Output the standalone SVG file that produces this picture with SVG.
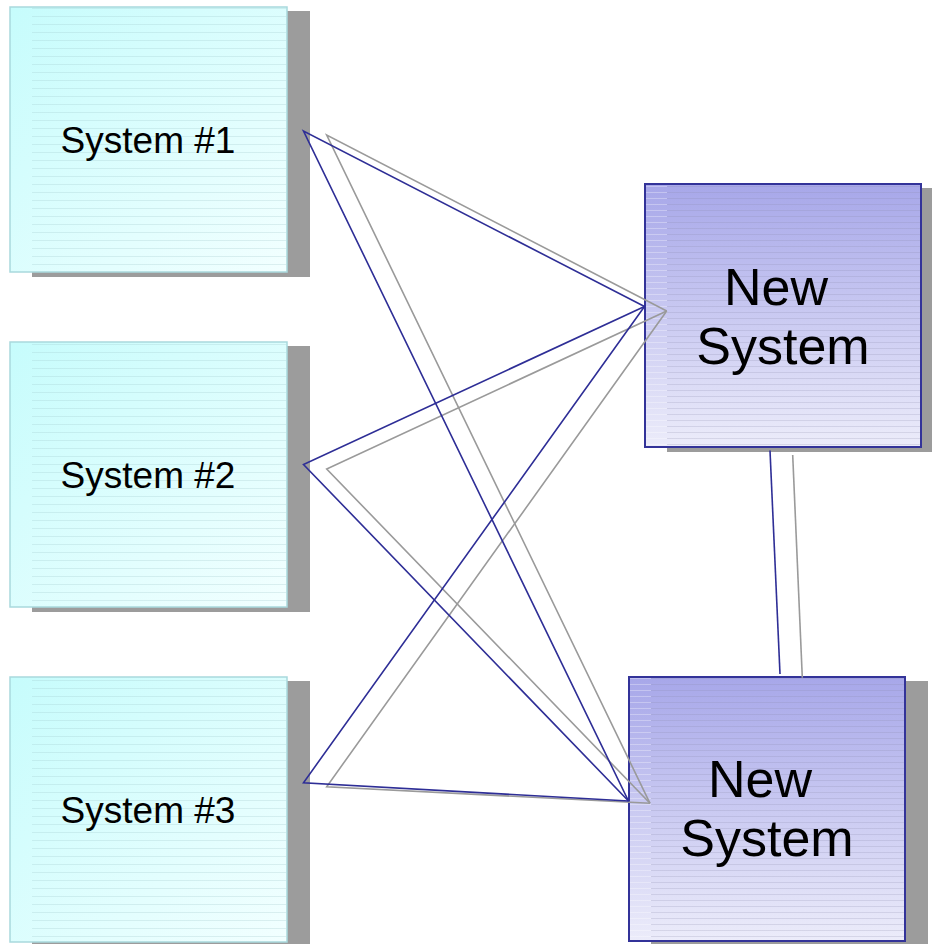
<svg xmlns="http://www.w3.org/2000/svg" width="932" height="944" viewBox="0 0 932 944">
  <defs>
    <linearGradient id="cyanFill" x1="0" y1="0" x2="1" y2="1">
      <stop offset="0" stop-color="#c6fcfc"/>
      <stop offset="1" stop-color="#f2ffff"/>
    </linearGradient>
    <linearGradient id="blueFill" x1="0" y1="0" x2="0" y2="1">
      <stop offset="0" stop-color="#a7a7e9"/>
      <stop offset="1" stop-color="#ececfa"/>
    </linearGradient>
    <pattern id="cyanLines" width="8" height="8" patternUnits="userSpaceOnUse">
      <rect x="0" y="0" width="8" height="1" fill="#9cc4c8" fill-opacity="0.28"/>
    </pattern>
    <pattern id="blueLines" width="6" height="6" patternUnits="userSpaceOnUse">
      <rect x="0" y="0" width="6" height="1" fill="#8a8aa8" fill-opacity="0.22"/>
    </pattern>
    <pattern id="blueEdge" width="6" height="6" patternUnits="userSpaceOnUse">
      <rect x="0" y="0" width="6" height="1" fill="#ffffff" fill-opacity="0.3"/>
    </pattern>
  </defs>
  <style>
    .shadow { fill: #9c9c9c; }
    .old { fill: url(#cyanFill); stroke: #a9d9dd; stroke-width: 1.5; }
    .oldLines { fill: url(#cyanLines); }
    .new { fill: url(#blueFill); stroke: #333399; stroke-width: 2; }
    .newLines { fill: url(#blueLines); }
    .newEdge { fill: url(#blueEdge); }
    .label { font-family: "Liberation Sans", Arial, sans-serif; fill: #000; }
    .small { font-size: 37px; text-anchor: middle; }
    .big { font-size: 52px; text-anchor: middle; }
    .link { fill: none; stroke: #2e2e96; stroke-width: 1.6; }
    .echo { fill: none; stroke: #9a9a9a; stroke-width: 1.6; }
  </style>

  <rect width="932" height="944" fill="#ffffff"/>

  <g id="system1">
    <rect class="shadow" x="32" y="11" width="278" height="266"/>
    <rect class="old" x="10" y="7" width="277" height="265"/>
    <rect class="oldLines" x="32" y="8" width="254" height="263"/>
    <text class="label small" x="148" y="153">System #1</text>
  </g>

  <g id="system2">
    <rect class="shadow" x="32" y="346" width="278" height="266"/>
    <rect class="old" x="10" y="342" width="277" height="265"/>
    <rect class="oldLines" x="32" y="343" width="254" height="263"/>
    <text class="label small" x="148" y="488">System #2</text>
  </g>

  <g id="system3">
    <rect class="shadow" x="32" y="681" width="278" height="266"/>
    <rect class="old" x="10" y="677" width="277" height="265"/>
    <rect class="oldLines" x="32" y="678" width="254" height="263"/>
    <text class="label small" x="148" y="823">System #3</text>
  </g>

  <g id="newSystemTop">
    <rect class="shadow" x="667" y="188" width="276" height="264"/>
    <rect class="new" x="645" y="184" width="276" height="263"/>
    <rect class="newEdge" x="646" y="185" width="21" height="261"/>
    <rect class="newLines" x="667" y="185" width="253" height="261"/>
    <text class="label big" x="776" y="305">New</text>
    <text class="label big" x="783" y="364">System</text>
  </g>

  <g id="newSystemBottom">
    <rect class="shadow" x="651" y="681" width="277" height="264"/>
    <rect class="new" x="629" y="677" width="276" height="264"/>
    <rect class="newEdge" x="630" y="678" width="21" height="262"/>
    <rect class="newLines" x="651" y="678" width="253" height="262"/>
    <text class="label big" x="760" y="797">New</text>
    <text class="label big" x="767" y="856">System</text>
  </g>

  <g id="connectors">
    <!-- grey offset strokes -->
    <path class="echo" d="M666.7,311 L326.7,135 L650,803.3"/>
    <path class="echo" d="M666.7,311 L326.7,469 L650,803.3"/>
    <path class="echo" d="M666.7,311 L326.7,786.7 L650,803.3"/>
    <path class="echo" d="M792.7,455 L802.3,677.7"/>
    <!-- blue strokes -->
    <path class="link" d="M644.5,306.5 L303.5,131 L628.5,801"/>
    <path class="link" d="M644.5,306.5 L303.5,464.5 L628.5,801"/>
    <path class="link" d="M644.5,306.5 L303.5,782.7 L628.5,801"/>
    <path class="link" d="M770,450.5 L780,674"/>
  </g>
</svg>
